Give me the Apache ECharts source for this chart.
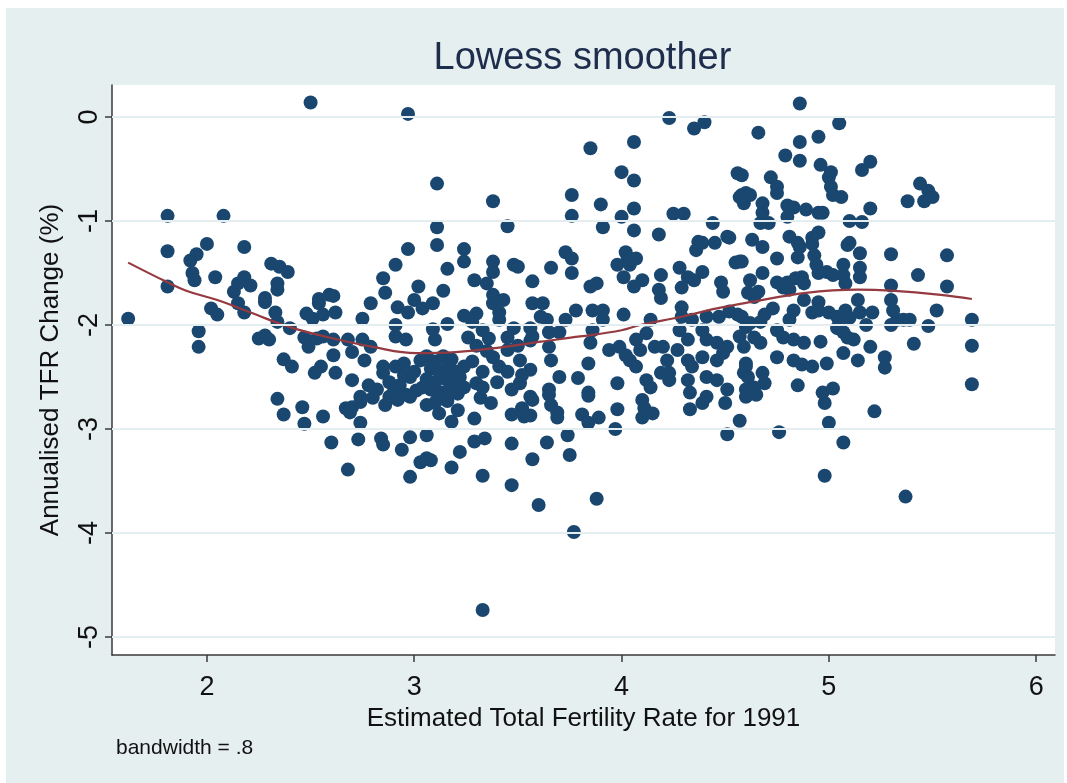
<!DOCTYPE html>
<html><head><meta charset="utf-8">
<script src="https://cdn.jsdelivr.net/npm/echarts@6/dist/echarts.min.js"></script>
<style>
html,body{margin:0;padding:0;background:#fff;overflow:hidden;}
#bg{position:absolute;left:6px;top:8px;width:1058px;height:775px;background:#E5EFF0;}
#chart{position:absolute;left:0;top:0;width:1067px;height:783px;}
</style></head><body><div id="bg"></div><div id="chart"></div>
<script>
// Estimated TFR 1991 (x) vs annualised TFR change % (y)
const scatterPoints = [
[1.62,-1.94],[1.81,-0.95],[2.08,-0.95],[1.81,-1.29],[2.00,-1.22],[1.95,-1.32],[1.92,-1.38],[2.18,-1.25],
[1.93,-1.50],[1.94,-1.57],[2.04,-1.54],[1.81,-1.63],[2.31,-1.41],[2.35,-1.44],[2.39,-1.49],[2.18,-1.54],
[2.15,-1.60],[2.21,-1.62],[2.13,-1.68],[2.34,-1.60],[2.34,-1.66],[2.28,-1.74],[2.54,-1.75],[2.59,-1.71],
[2.50,0.14],[2.02,-1.84],[2.05,-1.90],[1.96,-2.06],[1.96,-2.21],[2.15,-1.79],[2.18,-1.88],[2.28,-1.78],
[2.33,-1.88],[2.34,-1.97],[2.40,-2.03],[2.25,-2.13],[2.28,-2.10],[2.30,-2.14],[2.37,-2.33],[2.41,-2.40],
[2.54,-1.79],[2.48,-1.89],[2.51,-1.94],[2.56,-1.90],[2.47,-2.12],[2.53,-2.13],[2.49,-2.21],[2.52,-2.46],
[2.55,-2.40],[2.34,-2.71],[2.37,-2.86],[2.46,-2.79],[2.47,-2.95],[2.56,-2.88],[2.60,-3.13],
[2.97,0.03],[3.11,-0.64],[3.38,-0.81],[3.11,-1.06],[3.45,-1.05],[2.97,-1.27],[3.11,-1.23],[3.24,-1.27],
[3.24,-1.39],[3.38,-1.39],[3.38,-1.49],[3.48,-1.42],[3.50,-1.44],[2.91,-1.42],[3.16,-1.46],[2.85,-1.55],
[2.86,-1.69],[3.02,-1.63],[3.14,-1.67],[3.29,-1.57],[3.35,-1.60],[3.57,-1.58],[2.61,-1.72],[2.62,-1.88],
[2.79,-1.79],[2.92,-1.83],[2.97,-1.88],[3.00,-1.76],[3.04,-1.84],[3.09,-1.79],[3.38,-1.71],[3.38,-1.79],
[3.43,-1.76],[3.57,-1.79],[2.75,-1.94],[2.91,-2.00],[3.09,-2.04],[3.10,-2.14],[3.16,-1.99],[3.24,-1.91],
[3.30,-1.89],[3.28,-1.97],[3.33,-2.05],[3.41,-1.88],[3.41,-1.95],[3.48,-2.03],[3.56,-2.03],[3.56,-2.15],
[2.56,-2.11],[2.61,-2.14],[2.68,-2.14],[2.75,-2.14],[2.79,-2.21],[2.91,-2.11],[2.96,-2.14],[2.61,-2.29],
[2.70,-2.26],[2.76,-2.34],[2.62,-2.46],[2.70,-2.53],[2.78,-2.58],[2.85,-2.40],[2.91,-2.40],[2.95,-2.37],
[2.85,-2.46],[3.03,-2.34],[3.30,-2.56],[3.33,-2.60],[3.38,-2.31],[3.41,-2.40],[3.45,-2.24],[3.51,-2.34],
[3.51,-2.56],[3.56,-2.69],[2.74,-2.69],[2.88,-2.69],[2.96,-2.67],[3.01,-2.63],
[3.06,-2.30],[3.10,-2.35],[3.14,-2.30],[3.18,-2.33],[3.08,-2.42],[3.12,-2.45],[3.16,-2.40],[3.20,-2.45],
[3.06,-2.52],[3.10,-2.55],[3.15,-2.52],[3.19,-2.56],[3.22,-2.50],[3.08,-2.62],[3.13,-2.65],[3.17,-2.62],
[3.21,-2.66],[3.11,-2.72],[3.16,-2.73],[3.04,-2.60],[3.24,-2.40],[3.24,-2.60],
[2.88,-2.55],[2.93,-2.58],[2.98,-2.50],[3.00,-2.45],[2.95,-2.48],[2.82,-2.62],[2.80,-2.70],[2.90,-2.65],
[3.30,-2.20],[3.35,-2.25],[3.28,-2.35],[3.33,-2.45],[3.45,-2.45],[3.40,-2.55],[3.47,-2.62],[3.52,-2.48],
[3.36,-2.13],[3.45,-2.12],[3.50,-2.20],[3.26,-2.12],
[2.67,-2.80],[2.70,-2.79],[2.74,-2.74],[2.69,-2.84],[2.74,-2.94],[2.73,-3.10],[2.68,-3.39],[2.84,-3.09],
[2.85,-3.15],[2.94,-3.20],[2.98,-3.08],[3.06,-3.06],[2.98,-3.46],[3.03,-3.32],[3.06,-3.28],[3.08,-3.30],
[3.18,-3.37],[3.22,-3.22],[3.29,-3.12],[3.34,-3.09],[3.33,-3.45],[3.47,-3.14],[3.47,-3.54],[3.57,-3.29],
[3.60,-3.73],[3.33,-4.74],[3.12,-2.85],[3.18,-2.93],[3.21,-2.82],[3.29,-2.90],[3.32,-2.70],[3.37,-2.75],
[3.47,-2.86],[3.52,-2.80],[3.53,-2.88],[2.86,-2.77],[2.92,-2.72],[2.98,-2.69],[3.06,-2.77],[3.10,-2.75],
[4.23,-0.01],[4.35,-0.11],[4.40,-0.05],[3.85,-0.30],[4.06,-0.24],[4.00,-0.53],[4.06,-0.61],[3.76,-0.75],
[3.76,-0.95],[3.90,-0.84],[3.91,-1.06],[4.00,-0.96],[4.06,-0.88],[4.06,-1.09],[4.18,-1.13],[4.25,-0.93],
[4.30,-0.93],[4.44,-1.02],[4.56,-0.54],[4.58,-0.56],[4.58,-0.75],[4.59,-0.83],[4.60,-0.73],[4.51,-1.15],
[4.52,-1.16],[4.37,-1.20],[4.39,-1.21],[4.45,-1.21],[3.73,-1.30],[4.02,-1.30],
[3.76,-1.36],[3.66,-1.45],[3.76,-1.50],[3.62,-1.79],[3.61,-1.92],[3.64,-1.95],[3.85,-1.63],[3.88,-1.60],
[3.78,-1.86],[3.86,-1.86],[3.91,-1.86],[3.73,-1.95],[3.91,-1.95],[4.01,-1.90],[3.98,-1.42],[4.03,-1.35],
[4.04,-1.42],[4.07,-1.36],[4.01,-1.54],[4.06,-1.63],[4.10,-1.57],[4.19,-1.52],[4.18,-1.66],[4.19,-1.74],
[4.28,-1.45],[4.32,-1.54],[4.29,-1.64],[4.35,-1.57],[4.39,-1.49],[4.36,-1.28],[4.48,-1.59],[4.49,-1.68],
[4.55,-1.40],[4.57,-1.39],[4.29,-1.83],[4.29,-1.92],[4.34,-1.95],[4.41,-1.92],[4.47,-1.92],[4.52,-1.87],
[4.56,-1.90],[3.57,-2.11],[3.65,-2.07],[3.70,-2.07],[3.65,-2.21],[3.66,-2.34],[3.86,-2.05],[3.85,-2.17],
[3.94,-2.24],[3.99,-2.21],[4.02,-2.29],[4.04,-2.34],[4.07,-2.14],[4.09,-2.24],[4.07,-2.40],[4.12,-2.08],
[4.14,-1.95],[4.16,-2.21],[4.20,-2.21],[4.22,-2.34],[4.19,-2.46],[4.23,-2.46],[4.28,-2.05],[4.32,-2.14],
[4.27,-2.24],[4.32,-2.34],[4.34,-2.40],[4.39,-2.05],[4.41,-2.14],[4.46,-2.17],[4.51,-2.21],[4.39,-2.31],
[4.46,-2.34],[4.49,-2.27],[4.57,-2.11],[4.59,-2.21],[4.60,-2.37],[4.59,-2.46],[3.84,-2.37],[3.70,-2.50],
[3.79,-2.51],[3.56,-2.43],[3.65,-2.62],[3.84,-2.65],[3.98,-2.56],[4.12,-2.53],[4.14,-2.60],[4.23,-2.53],
[4.32,-2.53],[4.41,-2.50],[4.46,-2.53],[4.51,-2.62],[4.33,-2.65],[4.41,-2.69],[4.60,-2.62],
[3.57,-2.72],[3.56,-2.87],[3.65,-2.67],[3.66,-2.77],[3.69,-2.84],[3.69,-2.89],[3.84,-2.68],[3.81,-2.86],
[3.84,-2.94],[3.89,-2.89],[3.98,-2.81],[3.97,-3.00],[4.10,-2.72],[4.11,-2.80],[4.15,-2.85],[4.10,-2.89],
[4.33,-2.81],[4.39,-2.75],[4.50,-2.75],[4.57,-2.92],[4.51,-3.05],[4.60,-2.69],[3.64,-3.13],[3.74,-3.06],
[3.75,-3.25],[3.88,-3.67],[3.77,-3.99],
[4.86,0.13],[4.66,-0.15],[5.05,-0.06],[4.86,-0.24],[4.95,-0.19],[4.79,-0.37],[4.86,-0.42],[4.96,-0.46],
[5.01,-0.53],[5.16,-0.51],[5.20,-0.43],[4.72,-0.58],[4.75,-0.67],[4.75,-0.73],[5.00,-0.58],[5.01,-0.67],
[5.02,-0.75],[5.06,-0.77],[4.57,-0.77],[4.62,-0.75],[4.68,-0.83],[4.68,-0.92],[4.67,-1.02],[4.71,-1.02],
[4.80,-0.85],[4.83,-0.87],[4.80,-0.96],[4.89,-0.89],[4.95,-0.92],[4.97,-0.92],[5.10,-1.00],[5.16,-1.01],
[5.20,-0.88],[5.38,-0.81],[5.44,-0.64],[5.48,-0.71],[5.50,-0.77],[5.46,-0.81],[4.63,-1.18],[4.68,-1.25],
[4.81,-1.15],[4.85,-1.21],[4.92,-1.16],[4.95,-1.11],[5.10,-1.21],
[5.69,-1.95],[5.69,-2.20],[5.69,-2.57],[5.57,-1.33],[5.57,-1.63],[5.52,-1.86],[5.48,-2.01],[5.41,-2.18],
[5.43,-1.52],[5.30,-1.32],[5.30,-1.62],[5.30,-1.76],[5.31,-1.86],[5.33,-1.95],[5.36,-1.95],[5.39,-1.95],
[5.30,-2.00],[4.58,-1.39],[4.75,-1.36],[4.86,-1.25],[4.92,-1.22],[4.85,-1.35],[4.93,-1.33],[4.94,-1.42],
[4.95,-1.50],[4.99,-1.49],[5.02,-1.52],[5.07,-1.42],[5.07,-1.52],[5.08,-1.60],[5.09,-1.23],[5.15,-1.31],
[5.15,-1.45],[5.15,-1.54],[4.68,-1.50],[4.62,-1.57],[4.61,-1.69],[4.66,-1.68],[4.64,-1.73],[4.75,-1.59],
[4.80,-1.59],[4.84,-1.55],[4.87,-1.54],[4.88,-1.60],[4.81,-1.66],[4.78,-1.64],[4.88,-1.76],[4.95,-1.78],
[4.92,-1.88],[4.95,-1.86],[4.83,-1.86],[4.81,-1.95],[4.73,-1.84],[4.69,-1.90],[4.58,-1.92],[4.60,-2.02],
[4.62,-1.98],[4.67,-1.97],[4.64,-2.12],[4.67,-2.17],[4.75,-2.05],[4.78,-2.12],[4.83,-2.14],[4.88,-2.17],
[4.96,-2.16],[5.00,-1.88],[5.04,-1.92],[5.05,-1.98],[5.08,-1.86],[5.10,-1.93],[5.14,-1.76],[5.15,-1.88],
[5.18,-2.00],[5.21,-1.88],[5.04,-2.03],[5.07,-2.07],[5.09,-2.12],[5.12,-2.14],[5.20,-2.21],[5.07,-2.27],
[5.14,-2.34],[5.27,-2.31],[5.27,-2.41],[4.75,-2.31],[4.83,-2.34],[4.87,-2.38],[4.92,-2.40],[4.99,-2.37],
[4.60,-2.40],[4.61,-2.50],[4.68,-2.46],[4.69,-2.56],[4.64,-2.60],[4.85,-2.58],[4.97,-2.65],[5.02,-2.61],
[4.61,-2.67],[4.65,-2.67],[4.76,-3.03],[4.98,-2.75],[5.00,-2.94],[5.07,-3.13],[4.98,-3.45],[5.22,-2.83],
[5.37,-3.65]
];
// Lowess smoother (bandwidth .8)
const lowessX = [1.62,1.80,1.90,2.05,2.21,2.40,2.59,2.80,3.01,3.20,3.40,3.61,3.80,4.00,4.09,4.29,4.46,4.62,4.89,5.14,5.30,5.54,5.69];
const lowessY = [-1.40,-1.58,-1.67,-1.76,-1.88,-2.02,-2.12,-2.21,-2.27,-2.26,-2.22,-2.16,-2.11,-2.05,-2.00,-1.92,-1.84,-1.78,-1.69,-1.66,-1.67,-1.71,-1.75];
const xTicks = [2,3,4,5,6];
const yTicks = [0,-1,-2,-3,-4,-5];

const FONT = '"Liberation Sans", Arial, Helvetica, sans-serif';
const AXIS_COLOR = '#3a3a3a';
const chart = echarts.init(document.getElementById('chart'), null, {renderer:'canvas'});
const lowessData = lowessX.map((x,i)=>[x, lowessY[i]]);

chart.setOption({
  animation:false,
  backgroundColor:'transparent',
  grid:{left:112, top:85, right:12, bottom:128, show:true, backgroundColor:'#ffffff', borderWidth:0, containLabel:false},
  xAxis:{
    type:'value', min:1.542, max:6.091,
    axisLine:{show:true, onZero:false, lineStyle:{color:AXIS_COLOR, width:1.5}},
    axisTick:{show:true, customValues:xTicks, length:7, lineStyle:{color:AXIS_COLOR, width:1.5}},
    axisLabel:{customValues:xTicks, fontSize:27, color:'#111', fontFamily:FONT, margin:19},
    splitLine:{show:false},
    name:'Estimated Total Fertility Rate for 1991', nameLocation:'middle', nameGap:51,
    nameTextStyle:{fontSize:26, color:'#111', fontFamily:FONT}
  },
  yAxis:{
    type:'value', min:-5.173, max:0.308,
    axisLine:{show:true, onZero:false, lineStyle:{color:AXIS_COLOR, width:1.5}},
    axisTick:{show:true, customValues:yTicks, length:7, lineStyle:{color:AXIS_COLOR, width:1.5}},
    axisLabel:{customValues:yTicks, fontSize:27, color:'#111', fontFamily:FONT, margin:9, rotate:90},
    splitLine:{show:false},
    name:'Annualised TFR Change (%)', nameLocation:'middle', nameGap:48,
    nameTextStyle:{fontSize:26, color:'#111', fontFamily:FONT}
  },
  graphic:[
    {type:'text', left:583.5-150, top:40, silent:true, style:{text:'Lowess smoother', x:0, y:0, fill:'#1F2D4D', font:'38px '+FONT}},
    {type:'text', left:116, top:738, silent:true, style:{text:'bandwidth = .8', fill:'#111', font:'21px '+FONT}}
  ],
  series:[
    {type:'line', data:[], z:1, silent:true,
     markLine:{silent:true, symbol:['none','none'], label:{show:false}, emphasis:{disabled:true},
       lineStyle:{color:'#E4EEF0', width:2, type:'solid'}, animation:false,
       data:yTicks.map(v=>({yAxis:v}))}},
    {type:'scatter', data:scatterPoints, z:2, symbol:'circle', symbolSize:14,
     itemStyle:{color:'#1A476F', opacity:1}, emphasis:{disabled:true}},
    {type:'line', data:lowessData, z:3, smooth:0.4, showSymbol:false, symbol:'none',
     lineStyle:{color:'#943A40', width:2.2}, emphasis:{disabled:true}}
  ]
});
</script></body></html>
